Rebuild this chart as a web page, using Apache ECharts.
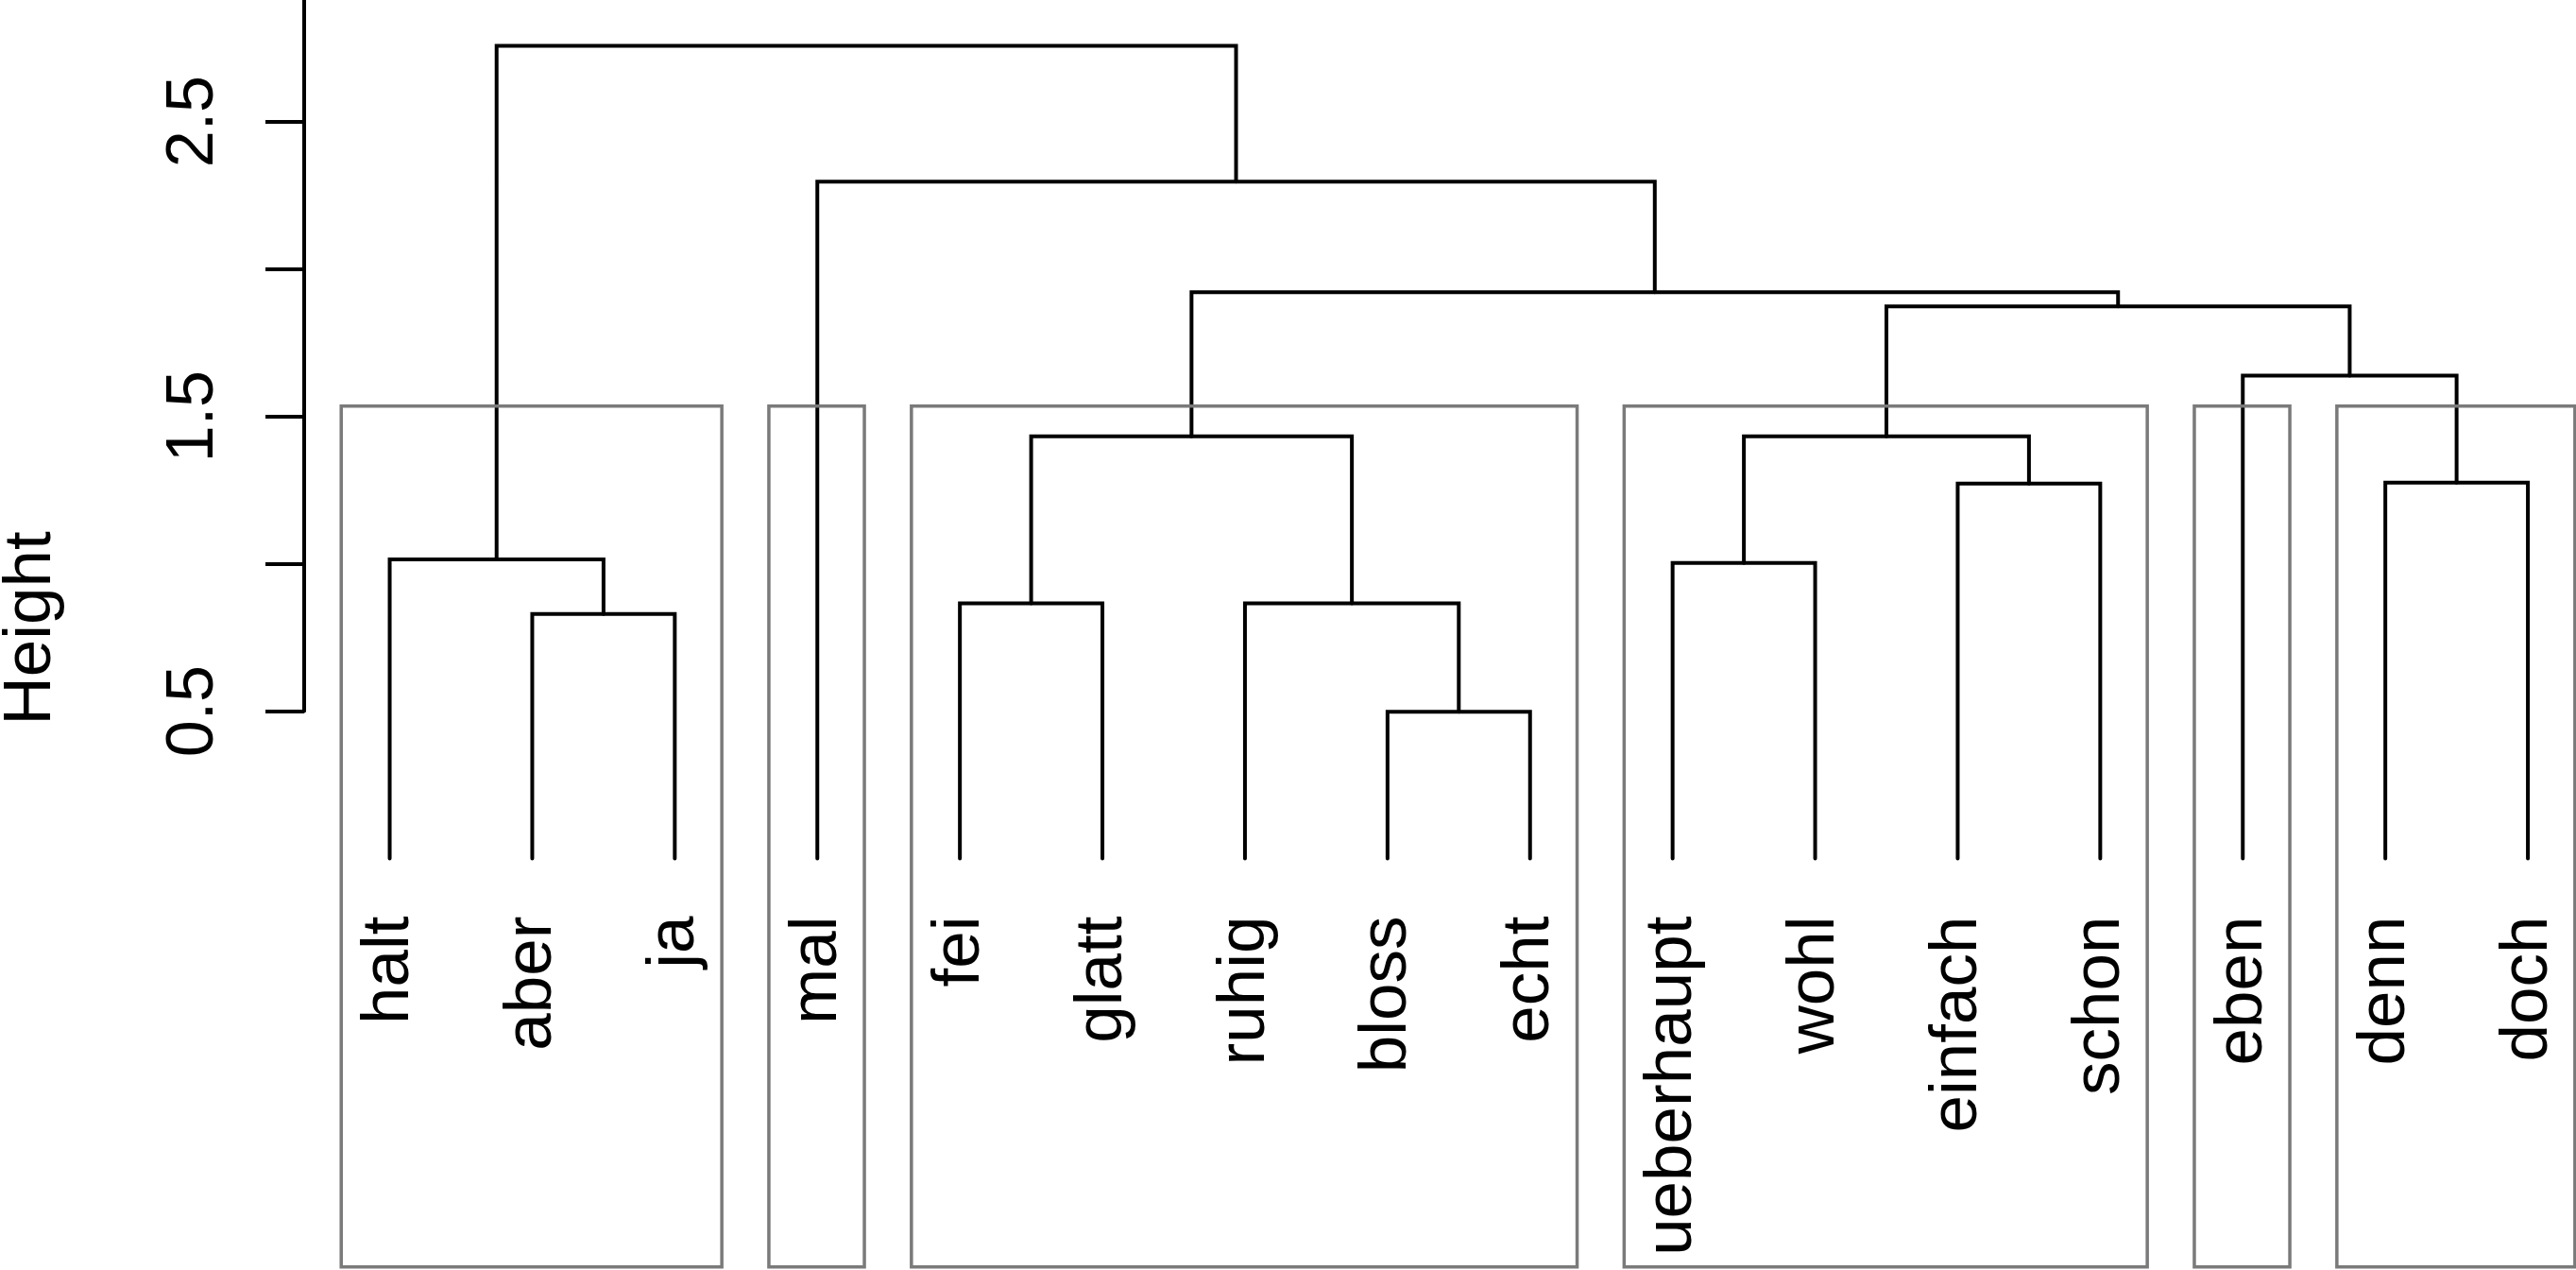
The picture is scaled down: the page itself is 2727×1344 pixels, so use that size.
<!DOCTYPE html>
<html>
<head>
<meta charset="utf-8">
<title>Dendrogram</title>
<script src="https://cdn.jsdelivr.net/npm/echarts@6/dist/echarts.min.js"></script>
<style>
  html, body { margin: 0; padding: 0; background: #ffffff; }
  #chart { width: 2727px; height: 1344px; }
</style>
</head>
<body>
<div id="chart"></div>
<script>
// leaves in plotting order (leaf i sits at x = i)
var labels = ['halt', 'aber', 'ja', 'mal', 'fei', 'glatt', 'ruhig', 'bloss', 'echt',
  'ueberhaupt', 'wohl', 'einfach', 'schon', 'eben', 'denn', 'doch'];

// hclust style merges: negative = leaf number, positive = earlier merge number
var mergeLeft   = [-8, -2, -5, -7, -10, -1, -12, -15, 3, 5, -14, 10, 9, -4, 6];
var mergeRight  = [-9, -3, -6, 1, -11, 2, -13, -16, 4, 7, 8, 11, 12, 13, 14];
var mergeHeight = [0.498, 0.830, 0.866, 0.866, 1.003, 1.015, 1.272, 1.275,
  1.432, 1.432, 1.638, 1.873, 1.921, 2.296, 2.757];

// rect.hclust(k = 6) clusters, as first / last leaf
var clusterStart = [1, 4, 5, 10, 14, 15];
var clusterEnd   = [3, 4, 9, 13, 14, 16];
var boxBottom = -1.385; // bottom of the plot region

var tickLabels = ['0.5', '1.5', '2.5'];

var FONT = '"Liberation Sans", Arial, sans-serif';

// build the U shaped links
var mergePos = [];
var links = [];
function nodePos(ref) {
  return ref < 0 ? [-ref, 0] : mergePos[ref - 1];
}
for (var i = 0; i < mergeHeight.length; i++) {
  var l = nodePos(mergeLeft[i]);
  var r = nodePos(mergeRight[i]);
  mergePos.push([(l[0] + r[0]) / 2, mergeHeight[i]]);
  links.push([l[0], l[1], r[0], r[1], mergeHeight[i]]);
}

// box top = mean of the (k-1)th and kth highest merge
var sorted = mergeHeight.slice().sort(function (a, b) { return b - a; });
var k = clusterStart.length;
var boxTop = (sorted[k - 2] + sorted[k - 1]) / 2;
var boxes = clusterStart.map(function (s, j) {
  return [s - 0.34, clusterEnd[j] + 0.33, boxTop, boxBottom];
});

var leafData = labels.map(function (name, j) {
  return { value: [j + 1, 0], name: name };
});

var chart = echarts.init(document.getElementById('chart'));

var option = {
  backgroundColor: '#ffffff',
  animation: false,
  grid: { left: 322, top: -27.4, width: 2444.6, height: 780, containLabel: false, outerBoundsMode: 'none' },
  xAxis: { type: 'value', min: 0.4, max: 16.6, show: false },
  yAxis: {
    type: 'value', min: 0.5, max: 3.0, interval: 0.5, position: 'left',
    axisLine: { show: true, onZero: false, lineStyle: { color: '#000', width: 4 } },
    axisTick: { show: true, inside: false, length: 41, lineStyle: { color: '#000', width: 4 } },
    axisLabel: {
      rotate: 90, margin: 81, fontSize: 70, fontFamily: FONT, color: '#000',
      formatter: function (v) {
        var t = v.toFixed(1);
        return tickLabels.indexOf(t) >= 0 ? t : '';
      }
    },
    splitLine: { show: false }
  },
  graphic: [{
    type: 'text', x: 33, y: 665, rotation: Math.PI / 2,
    style: { text: 'Height', font: '71px ' + FONT, fill: '#000', align: 'center', verticalAlign: 'middle' }
  }],
  series: [
    {
      type: 'custom', clip: false, silent: true, z: 2,
      data: links,
      renderItem: function (params, api) {
        var p1 = api.coord([api.value(0), api.value(1)]);
        var p2 = api.coord([api.value(0), api.value(4)]);
        var p3 = api.coord([api.value(2), api.value(4)]);
        var p4 = api.coord([api.value(2), api.value(3)]);
        return {
          type: 'polyline',
          shape: { points: [p1, p2, p3, p4] },
          style: { stroke: '#000', lineWidth: 4, fill: null, lineJoin: 'miter', lineCap: 'round' }
        };
      }
    },
    {
      type: 'custom', clip: false, silent: true, z: 3,
      data: boxes,
      renderItem: function (params, api) {
        var a = api.coord([api.value(0), api.value(2)]);
        var b = api.coord([api.value(1), api.value(3)]);
        return {
          type: 'rect',
          shape: { x: a[0], y: a[1], width: b[0] - a[0], height: b[1] - a[1] },
          style: { stroke: '#7a7a7a', lineWidth: 3.5, fill: null }
        };
      }
    },
    {
      type: 'custom', clip: false, silent: true, z: 2,
      data: leafData,
      renderItem: function (params, api) {
        var p = api.coord([api.value(0), api.value(1)]);
        return {
          type: 'text', x: p[0], y: p[1] + 61, rotation: Math.PI / 2,
          style: {
            text: labels[params.dataIndex], font: '71px ' + FONT, fill: '#000',
            align: 'right', verticalAlign: 'middle'
          }
        };
      }
    }
  ]
};

chart.setOption(option);

window.addEventListener('resize', function () {
  chart.resize();
});
</script>
</body>
</html>
